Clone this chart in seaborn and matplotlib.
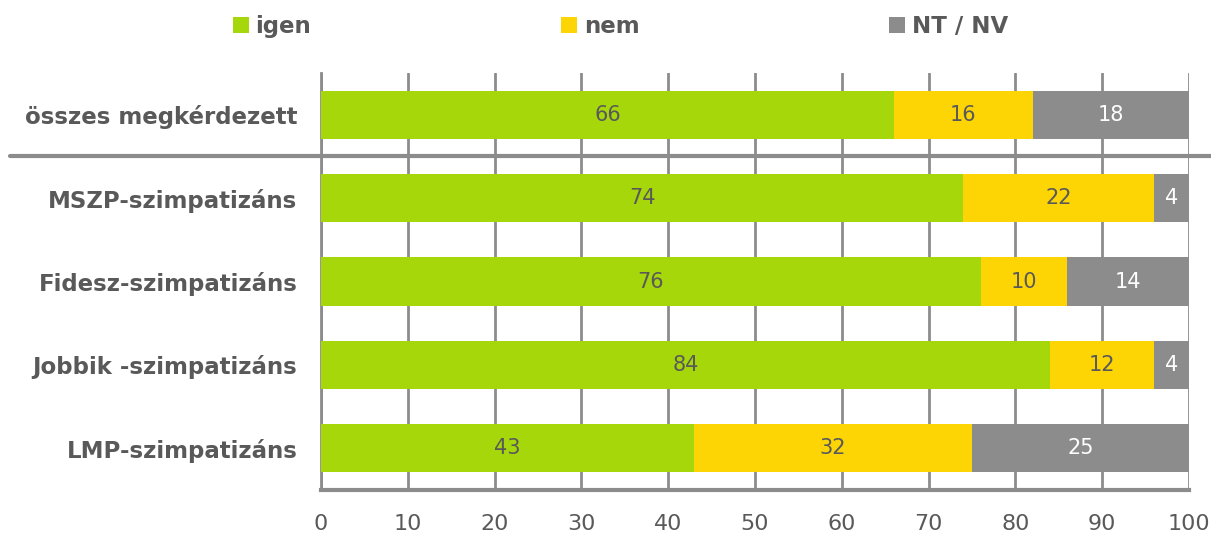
import matplotlib
matplotlib.use("Agg")
import matplotlib.pyplot as plt
import matplotlib.transforms as mtransforms
from matplotlib.patches import Patch
import numpy as np
import pandas as pd
import seaborn as sns

categories = ["összes megkérdezett", "MSZP-szimpatizáns", "Fidesz-szimpatizáns",
              "Jobbik -szimpatizáns", "LMP-szimpatizáns"]
igen = [66, 74, 76, 84, 43]
nem = [16, 22, 10, 12, 32]
ntnv = [18, 4, 14, 4, 25]
series_names = ["igen", "nem", "NT / NV"]
xticks = [0, 10, 20, 30, 40, 50, 60, 70, 80, 90, 100]

colors = {"igen": "#A5D70A", "nem": "#FDD505", "NT / NV": "#8C8C8C"}
label_colors = {"igen": "#595959", "nem": "#595959", "NT / NV": "#FFFFFF"}
txt = "#595959"
gridc = "#8C8C8C"

sns.set_theme(style="white")
plt.rcParams["font.family"] = ["DejaVu Sans"]

df = pd.DataFrame({"cat": categories, "igen": igen, "nem": nem, "NT / NV": ntnv})
cum = df[series_names].cumsum(axis=1)

fig = plt.figure(figsize=(12.11, 5.35), dpi=100)
ax = fig.add_axes([321 / 1211, 1 - 490 / 535, (1189 - 321) / 1211, (490 - 73) / 535])

for name in reversed(series_names):
    sns.barplot(data=cum.assign(cat=categories), x=name, y="cat", orient="h",
                color=colors[name], saturation=1, width=0.58, ax=ax,
                edgecolor="none", linewidth=0, zorder=3)

# segment labels
for i in range(len(categories)):
    start = 0
    for name in series_names:
        v = df.loc[i, name]
        ax.text(start + v / 2, i, f"{v}", ha="center", va="center",
                fontsize=15, color=label_colors[name], zorder=5)
        start += v

ax.set_xlim(0, 100)
ax.set_ylim(len(categories) - 0.5, -0.5)
ax.set_xticks(xticks)
ax.set_xticklabels([str(t) for t in xticks], fontsize=16, color=txt)
ax.set_xlabel("")
ax.set_ylabel("")
ax.set_yticks(range(len(categories)))
ax.set_yticklabels(categories, fontsize=16.5, fontweight="bold", color=txt)
ax.tick_params(axis="y", which="major", length=0, pad=17)
ax.set_yticks(np.arange(-0.5, len(categories), 1), minor=True)
ax.tick_params(axis="y", which="minor", length=6, width=1.5, color=gridc, direction="out")
ax.tick_params(axis="x", length=7, width=2, color=gridc, direction="out", pad=10)

ax.grid(axis="x", color=gridc, linewidth=2, zorder=0)
ax.set_axisbelow(True)
for s in ["top", "right"]:
    ax.spines[s].set_visible(False)
ax.spines["left"].set_color(gridc)
ax.spines["left"].set_linewidth(2)
ax.spines["bottom"].set_color(gridc)
ax.spines["bottom"].set_linewidth(3)

# separator line between total and party rows
trans = mtransforms.blended_transform_factory(fig.transFigure, ax.transData)
ax.plot([10 / 1211, 1.0], [0.5, 0.5], transform=trans, color=gridc,
        linewidth=3, clip_on=False, zorder=4)

handles = [Patch(facecolor=colors[n], edgecolor="none", label=n) for n in series_names]
leg = fig.legend(handles=handles, loc="center left", bbox_to_anchor=(212 / 1211, 1 - 27 / 535),
                 ncol=3, frameon=False, handlelength=0.7, handleheight=0.7,
                 handletextpad=0.3, columnspacing=10.9,
                 prop={"size": 16.5, "weight": "bold"})
for t in leg.get_texts():
    t.set_color(txt)

fig.savefig("out.png", dpi=100)
